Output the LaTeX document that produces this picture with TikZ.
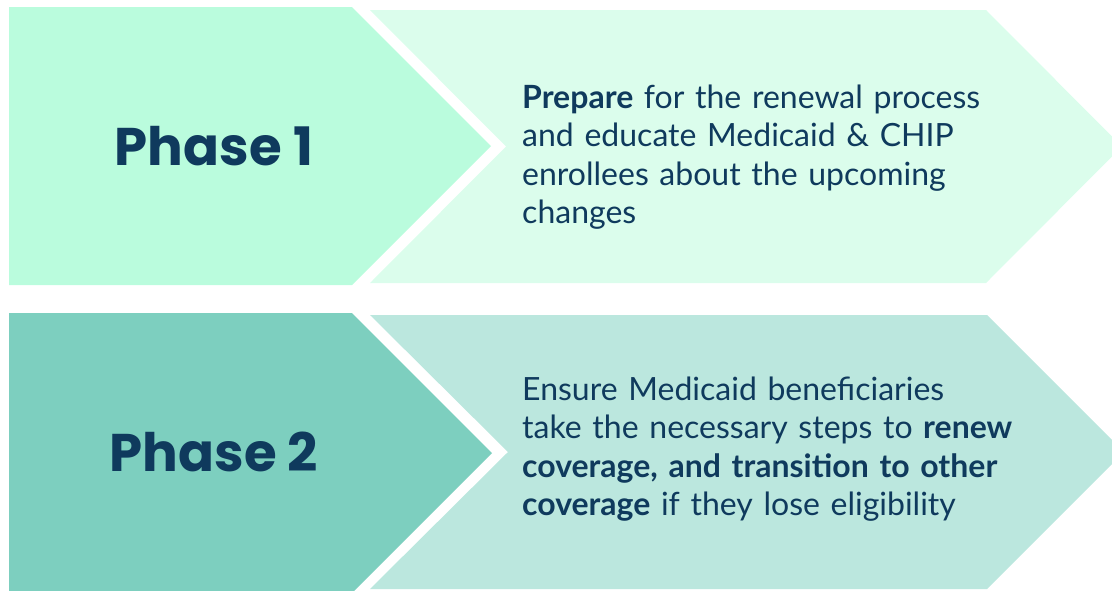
\documentclass[tikz,border=0pt]{standalone}
\usepackage{fontspec}
\setmainfont{Lato}
\newfontfamily\poppins{Poppins}[UprightFont=* Bold]
\definecolor{mintA}{HTML}{BAFCDD}
\definecolor{mintB}{HTML}{DBFDEC}
\definecolor{tealA}{HTML}{7DCFBF}
\definecolor{tealB}{HTML}{BBE7DE}
\definecolor{navy}{HTML}{0F3A5D}
\begin{document}
\begin{tikzpicture}[x=1pt,y=-1pt,
  phasetext/.style={text=navy,font=\poppins\fontsize{53}{60}\selectfont,inner sep=0pt},
  bodytext/.style={text=navy,font=\fontsize{32}{38.5}\selectfont,inner sep=0pt,
    text width=560pt,align=left,anchor=base west}]
\useasboundingbox (0,0) rectangle (1112,590);
\clip (0,0) rectangle (1112,590);
% phase 1
\fill[mintB] (370,10) -- (986,10) -- (1122,146.5) -- (986,283) -- (370,283) -- (506,146.5) -- cycle;
\fill[mintA] (9,7) -- (352,7) -- (491,146) -- (352,285) -- (9,285) -- cycle;
% phase 2
\fill[tealB] (370,315) -- (987,315) -- (1124,452) -- (987,589) -- (370,589) -- (508,452) -- cycle;
\fill[tealA] (9,313) -- (352,313) -- (492,453) -- (352,593) -- (9,593) -- cycle;
\node[phasetext] (p1) at (214,146) {Phase 1};
\node[phasetext] (p2) at (214,452) {Phase 2};
\node[bodytext] (t1) at (522,108) {\textbf{Prepare} for the renewal process\\
and educate Medicaid \& CHIP\\
enrollees about the upcoming\\
changes};
\node[bodytext] (t2) at (522,400) {Ensure Medicaid beneficiaries\\
take the necessary steps to \textbf{renew}\\
\textbf{coverage, and transition to other}\\
\textbf{coverage} if they lose eligibility};
\end{tikzpicture}
\end{document}
